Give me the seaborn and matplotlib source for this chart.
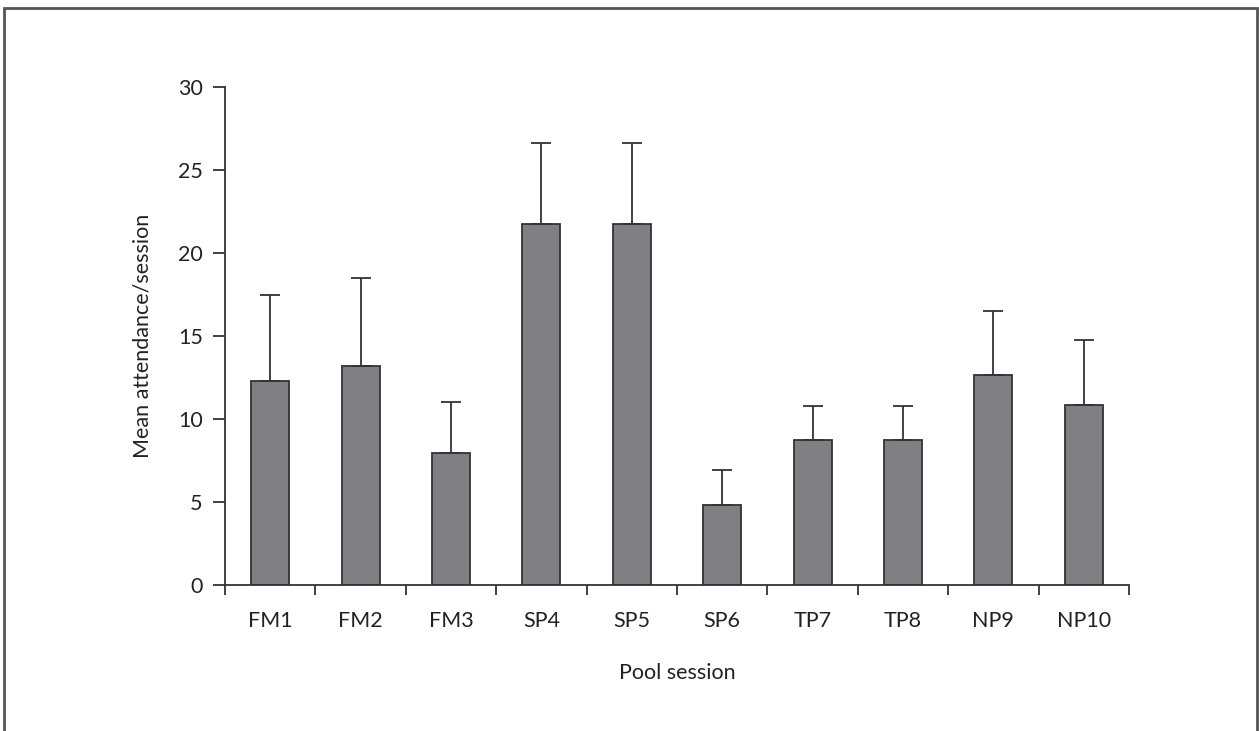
import pandas as pd
import seaborn as sns
import matplotlib.pyplot as plt
from matplotlib.patches import Rectangle
from matplotlib.ticker import FixedLocator

sessions = ['FM1', 'FM2', 'FM3', 'SP4', 'SP5', 'SP6', 'TP7', 'TP8', 'NP9', 'NP10']
mean_att = [12.3, 13.2, 7.95, 21.75, 21.75, 4.85, 8.75, 8.75, 12.65, 10.85]
upper_err = [5.2, 5.3, 3.05, 4.85, 4.85, 2.1, 2.05, 2.05, 3.85, 3.9]

sns.set_style('white')
plt.rcParams['font.family'] = ['Lato', 'DejaVu Sans']

df = pd.DataFrame({'session': sessions, 'mean': mean_att, 'err': upper_err})

fig = plt.figure(figsize=(12.59, 7.31), dpi=100)
ax = fig.add_axes([0.1787, 0.1997, 0.718, 0.6813])

sns.barplot(data=df, x='session', y='mean', color='#808084', saturation=1,
            edgecolor='#333333', linewidth=1.3, width=0.42, ax=ax)
ax.errorbar(range(len(sessions)), df['mean'], yerr=[[0] * len(sessions), df['err']],
            fmt='none', ecolor='#333333', elinewidth=1.3, capsize=7.5, capthick=1.3)

ax.set_xlim(-0.5, len(sessions) - 0.5)
ax.set_ylim(0, 30)
ax.set_yticks([0, 5, 10, 15, 20, 25, 30])
ax.set_xticks(range(len(sessions)))
ax.set_xticklabels(sessions)
ax.xaxis.set_minor_locator(FixedLocator([i - 0.5 for i in range(len(sessions) + 1)]))
ax.tick_params(axis='x', which='major', length=0, pad=19, labelsize=15.5, colors='#222222')
ax.tick_params(axis='x', which='minor', length=7, width=1.3, color='#333333', bottom=True)
ax.tick_params(axis='y', length=9, width=1.3, color='#333333', pad=7, labelsize=15.5,
               labelcolor='#222222', left=True)

sns.despine(ax=ax)
for s in ['left', 'bottom']:
    ax.spines[s].set_color('#333333')
    ax.spines[s].set_linewidth(1.3)

ax.set_xlabel('Pool session', fontsize=15.5, color='#222222', labelpad=23)
ax.set_ylabel('Mean attendance/session', fontsize=15.5, color='#222222', labelpad=18)

# frame around the figure
fig.patches.append(Rectangle((0.0032, -0.05), 0.9952, 1.039, transform=fig.transFigure,
                             fill=False, edgecolor='#555555', linewidth=2))

fig.savefig('out.png', dpi=100)
